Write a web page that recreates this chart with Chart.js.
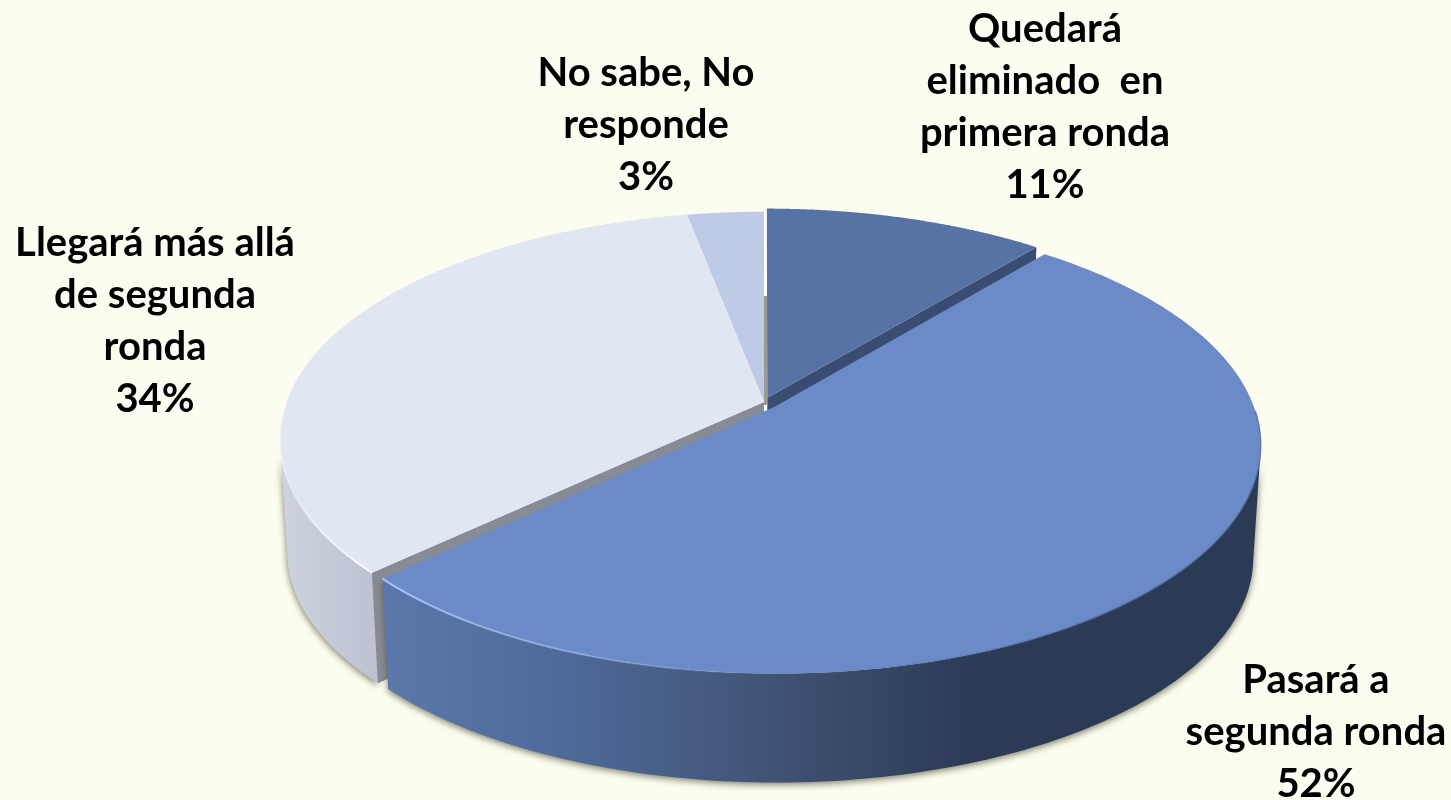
<!DOCTYPE html>
<html>
<head>
<meta charset="utf-8">
<title>Pie</title>
<script src="https://cdn.jsdelivr.net/npm/chart.js@4/dist/chart.umd.js"></script>
<style>
    html, body { margin: 0; padding: 0; background: #fcfcf0; }
    canvas { display: block; }
</style>
</head>
<body>
<canvas id="pie" width="1451" height="800"></canvas>
<script>
// datos del gráfico
const categories = [
    ['Quedará', 'eliminado  en', 'primera ronda'],
    ['Pasará a', 'segunda ronda'],
    ['Llegará más allá', 'de segunda', 'ronda'],
    ['No sabe, No', 'responde']
];
const values = [11, 52, 34, 3];

// estilos
const sliceColors = ['#5773a5', '#6b8bc8', '#e0e7f2', '#bfcbe6'];
const sliceOffsets = [8, 12, 0, 0];
const cutColors = ['#394c72', '#394c72', '#878b96', '#878b96'];
const labelCenters = [[1045, 29], [1316, 680], [155, 243], [646, 73]];
const lineHeight = 52;
const labelFont = 'bold 40px Lato';

// vista 3D: los ángulos salen del arco de Chart.js, esto sólo los proyecta
const stretchX = 1.218;
const stretchY = 0.565;
const perspective = 0.164;
const depth = 113;
const bottomScale = 0.985;
const paintOrder = [3, 0, 2, 1];

function project(el, ux, uy, bottom) {
    const w = 1 - perspective * uy;
    let dx = el.outerRadius * stretchX * ux / w;
    let dy = el.outerRadius * stretchY * uy / w;
    if (bottom) {
        dx *= bottomScale;
        dy = dy * bottomScale + depth;
    }
    return [el.x + dx, el.y + dy];
}

// centro del trozo (con su separación) en el plano de la torta
function sliceCenter(el) {
    const mid = (el.startAngle + el.endAngle) / 2;
    const d = (el.options.offset || 0) / el.outerRadius;
    return [Math.cos(mid) * d, Math.sin(mid) * d];
}

function rimPoints(el, bottom, minSin) {
    const c = sliceCenter(el);
    const pts = [];
    const steps = 160;
    for (let i = 0; i <= steps; i++) {
        const a = el.startAngle + (el.endAngle - el.startAngle) * i / steps;
        if (minSin !== undefined && Math.sin(a) < minSin) continue;
        pts.push(project(el, c[0] + Math.cos(a), c[1] + Math.sin(a), bottom));
    }
    return pts;
}

function tracePolygon(ctx, pts) {
    ctx.beginPath();
    pts.forEach((p, i) => i ? ctx.lineTo(p[0], p[1]) : ctx.moveTo(p[0], p[1]));
    ctx.closePath();
}

function paintCutFace(ctx, el, angle, color) {
    const c = sliceCenter(el);
    const ux = c[0] + Math.cos(angle);
    const uy = c[1] + Math.sin(angle);
    tracePolygon(ctx, [
        project(el, c[0], c[1], false),
        project(el, ux, uy, false),
        project(el, ux, uy, true),
        project(el, c[0], c[1], true)
    ]);
    ctx.fillStyle = color;
    ctx.fill();
}

function paintWall(ctx, el, stops) {
    // la silueta lateral toca el borde donde sin(a) = perspective
    const top = rimPoints(el, false, perspective);
    const bottom = rimPoints(el, true, perspective);
    if (!top.length) return;
    const xs = top.concat(bottom).map(p => p[0]);
    const grad = ctx.createLinearGradient(Math.min(...xs), 0, Math.max(...xs), 0);
    stops.forEach(s => grad.addColorStop(s[0], s[1]));
    ctx.save();
    ctx.shadowColor = 'rgba(80, 80, 50, 0.75)';
    ctx.shadowBlur = 7;
    ctx.shadowOffsetY = 2;
    tracePolygon(ctx, top.concat(bottom.reverse()));
    ctx.fillStyle = grad;
    ctx.fill();
    ctx.restore();
}

function paintTop(ctx, el, color) {
    const c = sliceCenter(el);
    tracePolygon(ctx, [project(el, c[0], c[1], false)].concat(rimPoints(el, false)));
    ctx.fillStyle = color;
    ctx.fill();
}

// brillo del borde delantero
function paintRim(ctx, el, x0, x1, colorA, colorB, width) {
    const pts = rimPoints(el, false, 0);
    const grad = ctx.createLinearGradient(x0, 0, x1, 0);
    grad.addColorStop(0, colorA);
    grad.addColorStop(1, colorB);
    ctx.beginPath();
    pts.forEach((p, i) => i ? ctx.lineTo(p[0], p[1]) : ctx.moveTo(p[0], p[1]));
    ctx.strokeStyle = grad;
    ctx.lineWidth = width;
    ctx.stroke();
}

const pie3d = {
    id: 'pie3d',
    beforeDatasetDraw(chart, args) {
        const ctx = chart.ctx;
        const arcs = args.meta.data;

        paintOrder.forEach(i => {
            const el = arcs[i];
            if (i === 0) {
                // rendija vertical entre 3% y 11%
                const ref = arcs[3];
                const a = project(ref, 0, -1, false);
                const b = project(ref, 0, -0.52, false);
                const o = project(ref, 0, 0, false);
                ctx.lineWidth = 3;
                ctx.strokeStyle = '#ffffff';
                ctx.beginPath(); ctx.moveTo(a[0] + 1.5, a[1]); ctx.lineTo(b[0] + 1.5, b[1]); ctx.stroke();
                ctx.strokeStyle = '#9a9a94';
                ctx.beginPath(); ctx.moveTo(b[0] + 1.5, b[1]); ctx.lineTo(o[0] + 1.5, o[1] + 3); ctx.stroke();
                paintCutFace(ctx, el, el.endAngle, cutColors[i]);
            }
            if (i === 2) {
                paintWall(ctx, el, [[0, '#ced3df'], [1, '#bcc2d0']]);
                paintCutFace(ctx, el, el.startAngle, cutColors[i]);
            }
            if (i === 1) {
                paintWall(ctx, el, [[0, '#5b78ab'], [0.2, '#4f6a9a'], [0.42, '#425678'], [0.68, '#2b3a55'], [1, '#2b3a55']]);
            }
            paintTop(ctx, el, sliceColors[i]);
            if (i === 2) paintRim(ctx, el, 290, 372, 'rgba(255,255,255,0.35)', '#ffffff', 2);
            if (i === 1) {
                paintRim(ctx, el, 390, 760, '#a9c2f2', 'rgba(169,194,242,0)', 2);
                paintRim(ctx, el, 800, 1100, 'rgba(80,106,158,0)', 'rgba(80,106,158,0.8)', 1.5);
            }
        });
        return false; // ya pintado, Chart.js no dibuja los arcos planos
    },
    afterDatasetsDraw(chart) {
        const ctx = chart.ctx;
        ctx.save();
        ctx.font = labelFont;
        ctx.fillStyle = '#000000';
        ctx.textAlign = 'center';
        ctx.textBaseline = 'middle';
        categories.forEach((lines, i) => {
            const rows = lines.concat(values[i] + '%');
            rows.forEach((row, n) => {
                ctx.fillText(row, labelCenters[i][0], labelCenters[i][1] + n * lineHeight);
            });
        });
        ctx.restore();
    }
};

new Chart(document.getElementById('pie'), {
    type: 'pie',
    data: {
        labels: categories,
        datasets: [{
            data: values,
            backgroundColor: sliceColors,
            offset: sliceOffsets,
            borderWidth: 0
        }]
    },
    options: {
        responsive: false,
        animation: false,
        layout: { padding: { left: 77, top: 4 } },
        plugins: {
            legend: { display: false },
            tooltip: { enabled: false }
        }
    },
    plugins: [pie3d]
});
</script>
</body>
</html>
